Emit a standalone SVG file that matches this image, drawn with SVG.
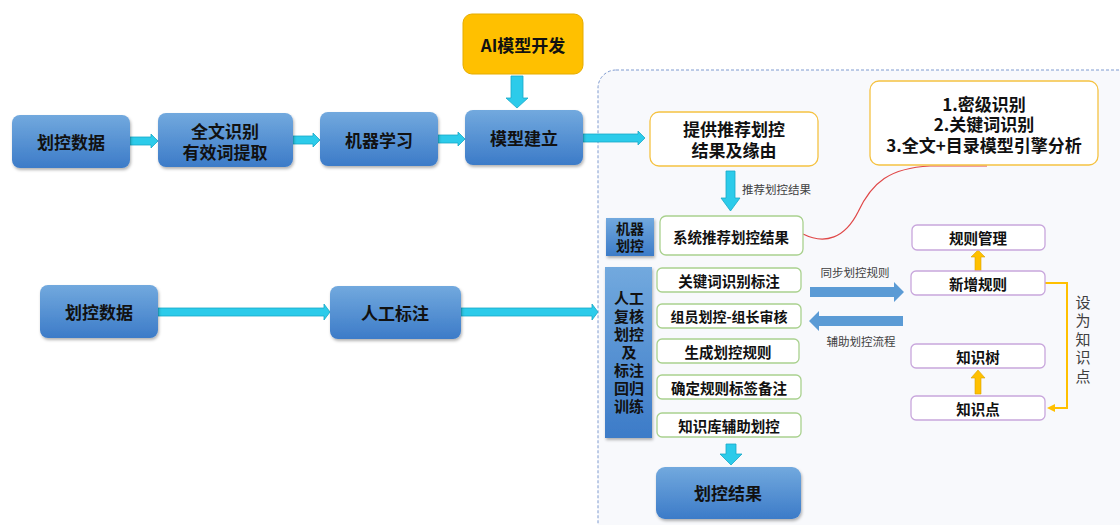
<svg xmlns="http://www.w3.org/2000/svg" width="1120" height="525" viewBox="0 0 1120 525">
<style>
text{font-family:"Noto Sans CJK SC","Microsoft YaHei",sans-serif;fill:#111;text-anchor:middle;dominant-baseline:central}
.b{font-weight:bold}
.blue{fill:url(#gb);filter:url(#sh)}
.wg{fill:#fff;stroke:#A9D18E;stroke-width:1.3}
.wp{fill:#fff;stroke:#C8A6DC;stroke-width:1.3}
.wy{fill:#fff;stroke:#F5C242;stroke-width:1.3}
.cy{fill:#2CCBEA;stroke:#18A8C8;stroke-width:0.8}
.bl{fill:#5B9BD5}
.or{fill:#FFC000;stroke:#D9A200;stroke-width:0.6}
.sm{font-size:11.5px;fill:#404040}
</style>
<defs>
<linearGradient id="gb" x1="0" y1="0" x2="0" y2="1">
<stop offset="0" stop-color="#72A9DE"/>
<stop offset="1" stop-color="#3C7BC8"/>
</linearGradient>
<filter id="sh" x="-10%" y="-10%" width="125%" height="135%">
<feDropShadow dx="1" dy="2" stdDeviation="1.5" flood-color="#000" flood-opacity="0.3"/>
</filter>
</defs>
<rect width="1120" height="525" fill="#fff"/>
<rect x="598" y="70" width="545" height="475" rx="18" fill="#F8F9FC" stroke="#7F9BD0" stroke-width="1" stroke-dasharray="3,2"/>

<g id="connectors">
<polygon class="cy" points="511,76 523,76 523,98 528,98 517,108 506,98 511,98"/>
<polygon class="cy" points="130,137 151,137 151,134 158,141 151,148 151,145 130,145"/>
<polygon class="cy" points="293,136 313,136 313,133 320,140 313,147 313,144 293,144"/>
<polygon class="cy" points="438,135 458,135 458,132 465,139 458,146 458,143 438,143"/>
<polygon class="cy" points="583,134 638,134 638,131 645,138 638,145 638,142 583,142"/>
<polygon class="cy" points="158,308 324,308 324,304 330,312 324,320 324,316 158,316"/>
<polygon class="cy" points="461,308 592,308 592,304 598,312 592,320 592,316 461,316"/>
<polygon class="cy" points="726,171 735,171 735,198 740,198 730.5,211 721,198 726,198"/>
<polygon class="cy" points="726,444 736,444 736,454 742,454 731,465 720,454 726,454"/>
<polygon class="bl" points="810,287 894,287 894,282 904,292 894,302 894,297 810,297"/>
<polygon class="bl" points="903,316 819,316 819,311 809,321 819,331 819,326 903,326"/>
<polygon class="or" points="975,271 981,271 981,257 985,257 978,250 971,257 975,257"/>
<polygon class="or" points="975,394 981,394 981,378 985,378 978,370 971,378 975,378"/>
<path d="M1045,283 H1067 V408 H1052" fill="none" stroke="#FFC000" stroke-width="2"/>
<path d="M1047,408 L1055,404 L1055,412 Z" fill="#FFC000"/>
<path d="M803,234 C825,245 845,238 858,212 C872,182 890,168 930,166 C955,166 975,166 987,166" fill="none" stroke="#E04848" stroke-width="1.2"/>
<text class="sm" x="742" y="189" style="text-anchor:start">推荐划控结果</text>
<text class="sm" x="855" y="272">同步划控规则</text>
<text class="sm" x="861" y="341">辅助划控流程</text>
<text x="1083" y="341" writing-mode="vertical-rl" font-size="15" letter-spacing="3.5" style="fill:#404040;dominant-baseline:auto">设为知识点</text>
</g>

<g id="ai">
<rect x="463" y="14" width="120" height="60" rx="9" fill="#FFC000" stroke="#E5AC00" stroke-width="1"/>
<text class="b" x="523" y="44" font-size="17">AI模型开发</text>
</g>
<g id="data1">
<rect class="blue" x="12" y="115" width="118" height="53" rx="8"/>
<text class="b" x="71" y="141" font-size="17">划控数据</text>
</g>
<g id="ocr">
<rect class="blue" x="158" y="113" width="135" height="54" rx="8"/>
<text class="b" font-size="17"><tspan x="225" y="130">全文识别</tspan><tspan x="225" y="151">有效词提取</tspan></text>
</g>
<g id="ml">
<rect class="blue" x="320" y="112" width="118" height="54" rx="8"/>
<text class="b" x="379" y="139" font-size="17">机器学习</text>
</g>
<g id="model">
<rect class="blue" x="465" y="110" width="118" height="55" rx="8"/>
<text class="b" x="524" y="137" font-size="17">模型建立</text>
</g>
<g id="data2">
<rect class="blue" x="40" y="285" width="118" height="53" rx="8"/>
<text class="b" x="99" y="311" font-size="17">划控数据</text>
</g>
<g id="manual">
<rect class="blue" x="330" y="286" width="131" height="53" rx="8"/>
<text class="b" x="395" y="312" font-size="17">人工标注</text>
</g>
<g id="provide">
<rect class="wy" x="650" y="112" width="168" height="54" rx="9"/>
<text class="b" font-size="17"><tspan x="734" y="128">提供推荐划控</tspan><tspan x="734" y="149">结果及缘由</tspan></text>
</g>
<g id="engine">
<rect class="wy" x="870" y="81" width="228" height="84" rx="9"/>
<text class="b" font-size="17"><tspan x="984" y="103">1.密级识别</tspan><tspan x="984" y="123">2.关键词识别</tspan><tspan x="984" y="144">3.全文+目录模型引擎分析</tspan></text>
</g>
<g id="machine">
<rect x="606" y="218" width="48" height="38" fill="url(#gb)" filter="url(#sh)"/>
<text class="b" font-size="14"><tspan x="630" y="228">机器</tspan><tspan x="630" y="245">划控</tspan></text>
</g>
<g id="sysrec">
<rect class="wg" x="660" y="216" width="143" height="39" rx="6"/>
<text class="b" x="731" y="236" font-size="14.5">系统推荐划控结果</text>
</g>
<g id="review">
<rect x="605" y="267" width="47" height="171" fill="url(#gb)" filter="url(#sh)"/>
<text class="b" font-size="15"><tspan x="629" y="297">人工</tspan><tspan x="629" y="315">复核</tspan><tspan x="629" y="333">划控</tspan><tspan x="629" y="351">及</tspan><tspan x="629" y="369">标注</tspan><tspan x="629" y="387">回归</tspan><tspan x="629" y="405">训练</tspan></text>
</g>
<g id="kw">
<rect class="wg" x="657" y="268" width="144" height="24" rx="5"/>
<text class="b" x="729" y="280" font-size="14.5">关键词识别标注</text>
</g>
<g id="member">
<rect class="wg" x="657" y="304" width="144" height="24" rx="5"/>
<text class="b" x="729" y="316" font-size="14">组员划控-组长审核</text>
</g>
<g id="gen">
<rect class="wg" x="657" y="339" width="142" height="24" rx="5"/>
<text class="b" x="728" y="351" font-size="14.5">生成划控规则</text>
</g>
<g id="tag">
<rect class="wg" x="657" y="375" width="144" height="24" rx="5"/>
<text class="b" x="729" y="387" font-size="14.5">确定规则标签备注</text>
</g>
<g id="kb">
<rect class="wg" x="657" y="413" width="144" height="24" rx="5"/>
<text class="b" x="729" y="425" font-size="14.5">知识库辅助划控</text>
</g>
<g id="result">
<rect class="blue" x="656" y="467" width="145" height="52" rx="9"/>
<text class="b" x="728" y="492" font-size="17">划控结果</text>
</g>
<g id="rulemgr">
<rect class="wp" x="912" y="225" width="133" height="25" rx="5"/>
<text class="b" x="978" y="237" font-size="14.5">规则管理</text>
</g>
<g id="newrule">
<rect class="wp" x="911" y="271" width="134" height="24" rx="5"/>
<text class="b" x="978" y="283" font-size="14.5">新增规则</text>
</g>
<g id="tree">
<rect class="wp" x="911" y="344" width="134" height="24" rx="5"/>
<text class="b" x="978" y="356" font-size="14.5">知识树</text>
</g>
<g id="point">
<rect class="wp" x="911" y="396" width="134" height="24" rx="5"/>
<text class="b" x="978" y="408" font-size="14.5">知识点</text>
</g>
</svg>
